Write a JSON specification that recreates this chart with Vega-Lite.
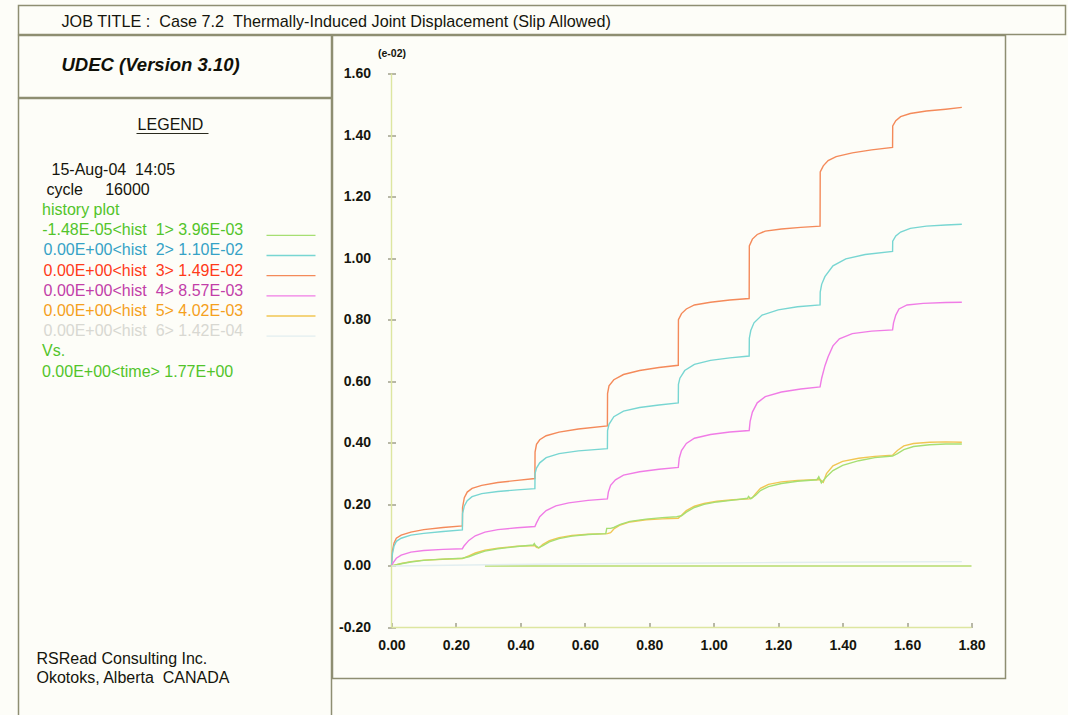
{
  "$schema": "https://vega.github.io/schema/vega-lite/v6.json",
  "background": "#fdfdf8",
  "padding": {"left": 17.5, "top": 4.5, "right": 0, "bottom": 0},
  "spacing": -3,
  "config": {
    "font": "Liberation Sans",
    "view": {"stroke": "#8e8e72", "strokeWidth": 1.5},
    "concat": {"spacing": -3}
  },
  "resolve": {"scale": {"color": "independent", "stroke": "independent"}},
  "datasets": {
    "curves": [
      {"series": "hist 3", "time": 0, "disp": 0},
      {"series": "hist 3", "time": 0.003, "disp": 0.05},
      {"series": "hist 3", "time": 0.008, "disp": 0.075},
      {"series": "hist 3", "time": 0.015, "disp": 0.09},
      {"series": "hist 3", "time": 0.03, "disp": 0.1},
      {"series": "hist 3", "time": 0.06, "disp": 0.11},
      {"series": "hist 3", "time": 0.1, "disp": 0.118},
      {"series": "hist 3", "time": 0.16, "disp": 0.125},
      {"series": "hist 3", "time": 0.22, "disp": 0.13},
      {"series": "hist 3", "time": 0.2205, "disp": 0.19},
      {"series": "hist 3", "time": 0.226, "disp": 0.222},
      {"series": "hist 3", "time": 0.235, "disp": 0.24},
      {"series": "hist 3", "time": 0.25, "disp": 0.252},
      {"series": "hist 3", "time": 0.28, "disp": 0.262},
      {"series": "hist 3", "time": 0.33, "disp": 0.271},
      {"series": "hist 3", "time": 0.39, "disp": 0.278},
      {"series": "hist 3", "time": 0.445, "disp": 0.284},
      {"series": "hist 3", "time": 0.4455, "disp": 0.37},
      {"series": "hist 3", "time": 0.45, "disp": 0.395},
      {"series": "hist 3", "time": 0.46, "disp": 0.41},
      {"series": "hist 3", "time": 0.48, "disp": 0.423},
      {"series": "hist 3", "time": 0.52, "disp": 0.435},
      {"series": "hist 3", "time": 0.58, "disp": 0.445},
      {"series": "hist 3", "time": 0.67, "disp": 0.455},
      {"series": "hist 3", "time": 0.6705, "disp": 0.56},
      {"series": "hist 3", "time": 0.675, "disp": 0.585},
      {"series": "hist 3", "time": 0.69, "disp": 0.605},
      {"series": "hist 3", "time": 0.72, "disp": 0.622},
      {"series": "hist 3", "time": 0.77, "disp": 0.635},
      {"series": "hist 3", "time": 0.83, "disp": 0.645},
      {"series": "hist 3", "time": 0.89, "disp": 0.652},
      {"series": "hist 3", "time": 0.8905, "disp": 0.8},
      {"series": "hist 3", "time": 0.9, "disp": 0.82},
      {"series": "hist 3", "time": 0.915, "disp": 0.835},
      {"series": "hist 3", "time": 0.94, "disp": 0.848},
      {"series": "hist 3", "time": 0.99, "disp": 0.857},
      {"series": "hist 3", "time": 1.05, "disp": 0.864},
      {"series": "hist 3", "time": 1.11, "disp": 0.869},
      {"series": "hist 3", "time": 1.1105, "disp": 1.04},
      {"series": "hist 3", "time": 1.12, "disp": 1.062},
      {"series": "hist 3", "time": 1.135, "disp": 1.077},
      {"series": "hist 3", "time": 1.16, "disp": 1.088},
      {"series": "hist 3", "time": 1.21, "disp": 1.095},
      {"series": "hist 3", "time": 1.27, "disp": 1.1},
      {"series": "hist 3", "time": 1.33, "disp": 1.104},
      {"series": "hist 3", "time": 1.3305, "disp": 1.28},
      {"series": "hist 3", "time": 1.34, "disp": 1.3},
      {"series": "hist 3", "time": 1.355, "disp": 1.317},
      {"series": "hist 3", "time": 1.38, "disp": 1.33},
      {"series": "hist 3", "time": 1.43, "disp": 1.342},
      {"series": "hist 3", "time": 1.49, "disp": 1.352},
      {"series": "hist 3", "time": 1.555, "disp": 1.36},
      {"series": "hist 3", "time": 1.5555, "disp": 1.43},
      {"series": "hist 3", "time": 1.565, "disp": 1.447},
      {"series": "hist 3", "time": 1.58, "disp": 1.46},
      {"series": "hist 3", "time": 1.61, "disp": 1.47},
      {"series": "hist 3", "time": 1.66, "disp": 1.478},
      {"series": "hist 3", "time": 1.72, "disp": 1.484},
      {"series": "hist 3", "time": 1.77, "disp": 1.49},

      {"series": "hist 2", "time": 0, "disp": 0},
      {"series": "hist 2", "time": 0.003, "disp": 0.04},
      {"series": "hist 2", "time": 0.008, "disp": 0.065},
      {"series": "hist 2", "time": 0.015, "disp": 0.08},
      {"series": "hist 2", "time": 0.03, "disp": 0.09},
      {"series": "hist 2", "time": 0.06, "disp": 0.1},
      {"series": "hist 2", "time": 0.1, "disp": 0.106},
      {"series": "hist 2", "time": 0.16, "disp": 0.112},
      {"series": "hist 2", "time": 0.22, "disp": 0.117},
      {"series": "hist 2", "time": 0.2205, "disp": 0.17},
      {"series": "hist 2", "time": 0.226, "disp": 0.195},
      {"series": "hist 2", "time": 0.235, "disp": 0.212},
      {"series": "hist 2", "time": 0.25, "disp": 0.225},
      {"series": "hist 2", "time": 0.28, "disp": 0.235},
      {"series": "hist 2", "time": 0.33, "disp": 0.242},
      {"series": "hist 2", "time": 0.39, "disp": 0.247},
      {"series": "hist 2", "time": 0.445, "disp": 0.251},
      {"series": "hist 2", "time": 0.4455, "disp": 0.3},
      {"series": "hist 2", "time": 0.45, "disp": 0.318},
      {"series": "hist 2", "time": 0.46, "disp": 0.335},
      {"series": "hist 2", "time": 0.48, "disp": 0.352},
      {"series": "hist 2", "time": 0.52, "disp": 0.365},
      {"series": "hist 2", "time": 0.58, "disp": 0.374},
      {"series": "hist 2", "time": 0.67, "disp": 0.381},
      {"series": "hist 2", "time": 0.6705, "disp": 0.44},
      {"series": "hist 2", "time": 0.675, "disp": 0.46},
      {"series": "hist 2", "time": 0.69, "disp": 0.485},
      {"series": "hist 2", "time": 0.72, "disp": 0.503},
      {"series": "hist 2", "time": 0.77, "disp": 0.515},
      {"series": "hist 2", "time": 0.83, "disp": 0.523},
      {"series": "hist 2", "time": 0.89, "disp": 0.53},
      {"series": "hist 2", "time": 0.8905, "disp": 0.59},
      {"series": "hist 2", "time": 0.895, "disp": 0.61},
      {"series": "hist 2", "time": 0.91, "disp": 0.635},
      {"series": "hist 2", "time": 0.94, "disp": 0.655},
      {"series": "hist 2", "time": 0.99, "disp": 0.668},
      {"series": "hist 2", "time": 1.05, "disp": 0.676},
      {"series": "hist 2", "time": 1.11, "disp": 0.682},
      {"series": "hist 2", "time": 1.1105, "disp": 0.74},
      {"series": "hist 2", "time": 1.115, "disp": 0.765},
      {"series": "hist 2", "time": 1.125, "disp": 0.79},
      {"series": "hist 2", "time": 1.15, "disp": 0.815},
      {"series": "hist 2", "time": 1.2, "disp": 0.832},
      {"series": "hist 2", "time": 1.26, "disp": 0.842},
      {"series": "hist 2", "time": 1.33, "disp": 0.848},
      {"series": "hist 2", "time": 1.3305, "disp": 0.89},
      {"series": "hist 2", "time": 1.335, "disp": 0.915},
      {"series": "hist 2", "time": 1.345, "disp": 0.94},
      {"series": "hist 2", "time": 1.37, "disp": 0.975},
      {"series": "hist 2", "time": 1.41, "disp": 0.998},
      {"series": "hist 2", "time": 1.47, "disp": 1.012},
      {"series": "hist 2", "time": 1.555, "disp": 1.022},
      {"series": "hist 2", "time": 1.5555, "disp": 1.055},
      {"series": "hist 2", "time": 1.565, "disp": 1.072},
      {"series": "hist 2", "time": 1.58, "disp": 1.085},
      {"series": "hist 2", "time": 1.61, "disp": 1.097},
      {"series": "hist 2", "time": 1.66, "disp": 1.104},
      {"series": "hist 2", "time": 1.72, "disp": 1.108},
      {"series": "hist 2", "time": 1.77, "disp": 1.11},

      {"series": "hist 4", "time": 0, "disp": 0},
      {"series": "hist 4", "time": 0.005, "disp": 0.01},
      {"series": "hist 4", "time": 0.015, "disp": 0.025},
      {"series": "hist 4", "time": 0.03, "disp": 0.035},
      {"series": "hist 4", "time": 0.06, "disp": 0.045},
      {"series": "hist 4", "time": 0.1, "disp": 0.05},
      {"series": "hist 4", "time": 0.16, "disp": 0.054},
      {"series": "hist 4", "time": 0.22, "disp": 0.056},
      {"series": "hist 4", "time": 0.225, "disp": 0.065},
      {"series": "hist 4", "time": 0.24, "disp": 0.083},
      {"series": "hist 4", "time": 0.26, "disp": 0.098},
      {"series": "hist 4", "time": 0.29, "disp": 0.11},
      {"series": "hist 4", "time": 0.33, "disp": 0.118},
      {"series": "hist 4", "time": 0.39, "disp": 0.124},
      {"series": "hist 4", "time": 0.445, "disp": 0.128},
      {"series": "hist 4", "time": 0.45, "disp": 0.14},
      {"series": "hist 4", "time": 0.46, "disp": 0.16},
      {"series": "hist 4", "time": 0.48, "disp": 0.18},
      {"series": "hist 4", "time": 0.51, "disp": 0.195},
      {"series": "hist 4", "time": 0.55, "disp": 0.205},
      {"series": "hist 4", "time": 0.61, "disp": 0.213},
      {"series": "hist 4", "time": 0.67, "disp": 0.218},
      {"series": "hist 4", "time": 0.673, "disp": 0.24},
      {"series": "hist 4", "time": 0.68, "disp": 0.262},
      {"series": "hist 4", "time": 0.695, "disp": 0.28},
      {"series": "hist 4", "time": 0.72, "disp": 0.295},
      {"series": "hist 4", "time": 0.77, "disp": 0.306},
      {"series": "hist 4", "time": 0.83, "disp": 0.314},
      {"series": "hist 4", "time": 0.89, "disp": 0.32},
      {"series": "hist 4", "time": 0.893, "disp": 0.35},
      {"series": "hist 4", "time": 0.9, "disp": 0.375},
      {"series": "hist 4", "time": 0.915, "disp": 0.398},
      {"series": "hist 4", "time": 0.94, "disp": 0.415},
      {"series": "hist 4", "time": 0.99, "disp": 0.427},
      {"series": "hist 4", "time": 1.05, "disp": 0.435},
      {"series": "hist 4", "time": 1.11, "disp": 0.44},
      {"series": "hist 4", "time": 1.113, "disp": 0.47},
      {"series": "hist 4", "time": 1.12, "disp": 0.5},
      {"series": "hist 4", "time": 1.135, "disp": 0.53},
      {"series": "hist 4", "time": 1.16, "disp": 0.55},
      {"series": "hist 4", "time": 1.21, "disp": 0.565},
      {"series": "hist 4", "time": 1.27, "disp": 0.575},
      {"series": "hist 4", "time": 1.33, "disp": 0.582},
      {"series": "hist 4", "time": 1.335, "disp": 0.61},
      {"series": "hist 4", "time": 1.345, "disp": 0.65},
      {"series": "hist 4", "time": 1.355, "disp": 0.68},
      {"series": "hist 4", "time": 1.37, "disp": 0.715},
      {"series": "hist 4", "time": 1.39, "disp": 0.738},
      {"series": "hist 4", "time": 1.43, "disp": 0.755},
      {"series": "hist 4", "time": 1.49, "disp": 0.763},
      {"series": "hist 4", "time": 1.555, "disp": 0.767},
      {"series": "hist 4", "time": 1.558, "disp": 0.79},
      {"series": "hist 4", "time": 1.565, "disp": 0.815},
      {"series": "hist 4", "time": 1.575, "disp": 0.835},
      {"series": "hist 4", "time": 1.6, "disp": 0.848},
      {"series": "hist 4", "time": 1.65, "disp": 0.853},
      {"series": "hist 4", "time": 1.72, "disp": 0.856},
      {"series": "hist 4", "time": 1.77, "disp": 0.857},

      {"series": "hist 5", "time": 0, "disp": 0},
      {"series": "hist 5", "time": 0.03, "disp": 0.008},
      {"series": "hist 5", "time": 0.06, "disp": 0.014},
      {"series": "hist 5", "time": 0.1, "disp": 0.019},
      {"series": "hist 5", "time": 0.16, "disp": 0.022},
      {"series": "hist 5", "time": 0.22, "disp": 0.024},
      {"series": "hist 5", "time": 0.24, "disp": 0.033},
      {"series": "hist 5", "time": 0.26, "disp": 0.042},
      {"series": "hist 5", "time": 0.29, "disp": 0.051},
      {"series": "hist 5", "time": 0.33, "disp": 0.058},
      {"series": "hist 5", "time": 0.39, "disp": 0.064},
      {"series": "hist 5", "time": 0.445, "disp": 0.066},
      {"series": "hist 5", "time": 0.45, "disp": 0.06},
      {"series": "hist 5", "time": 0.457, "disp": 0.058},
      {"series": "hist 5", "time": 0.47, "disp": 0.07},
      {"series": "hist 5", "time": 0.49, "disp": 0.082},
      {"series": "hist 5", "time": 0.52, "disp": 0.092},
      {"series": "hist 5", "time": 0.56, "disp": 0.099},
      {"series": "hist 5", "time": 0.61, "disp": 0.103},
      {"series": "hist 5", "time": 0.67, "disp": 0.105},
      {"series": "hist 5", "time": 0.68, "disp": 0.108},
      {"series": "hist 5", "time": 0.69, "disp": 0.12},
      {"series": "hist 5", "time": 0.71, "disp": 0.133},
      {"series": "hist 5", "time": 0.74, "disp": 0.143},
      {"series": "hist 5", "time": 0.79, "disp": 0.15},
      {"series": "hist 5", "time": 0.84, "disp": 0.153},
      {"series": "hist 5", "time": 0.89, "disp": 0.155},
      {"series": "hist 5", "time": 0.9, "disp": 0.165},
      {"series": "hist 5", "time": 0.915, "disp": 0.18},
      {"series": "hist 5", "time": 0.94, "disp": 0.194},
      {"series": "hist 5", "time": 0.97, "disp": 0.203},
      {"series": "hist 5", "time": 1.01, "disp": 0.21},
      {"series": "hist 5", "time": 1.06, "disp": 0.215},
      {"series": "hist 5", "time": 1.11, "disp": 0.218},
      {"series": "hist 5", "time": 1.12, "disp": 0.222},
      {"series": "hist 5", "time": 1.13, "disp": 0.235},
      {"series": "hist 5", "time": 1.145, "disp": 0.252},
      {"series": "hist 5", "time": 1.17, "disp": 0.265},
      {"series": "hist 5", "time": 1.21, "disp": 0.273},
      {"series": "hist 5", "time": 1.26, "disp": 0.278},
      {"series": "hist 5", "time": 1.33, "disp": 0.281},
      {"series": "hist 5", "time": 1.34, "disp": 0.272},
      {"series": "hist 5", "time": 1.35, "disp": 0.3},
      {"series": "hist 5", "time": 1.37, "disp": 0.325},
      {"series": "hist 5", "time": 1.4, "disp": 0.34},
      {"series": "hist 5", "time": 1.45, "disp": 0.35},
      {"series": "hist 5", "time": 1.5, "disp": 0.356},
      {"series": "hist 5", "time": 1.555, "disp": 0.36},
      {"series": "hist 5", "time": 1.57, "disp": 0.375},
      {"series": "hist 5", "time": 1.59, "disp": 0.39},
      {"series": "hist 5", "time": 1.62, "disp": 0.398},
      {"series": "hist 5", "time": 1.67, "disp": 0.402},
      {"series": "hist 5", "time": 1.72, "disp": 0.403},
      {"series": "hist 5", "time": 1.77, "disp": 0.402},

      {"series": "hist 1", "time": 0, "disp": 0},
      {"series": "hist 1", "time": 0.03, "disp": 0.007},
      {"series": "hist 1", "time": 0.06, "disp": 0.013},
      {"series": "hist 1", "time": 0.1, "disp": 0.018},
      {"series": "hist 1", "time": 0.16, "disp": 0.022},
      {"series": "hist 1", "time": 0.22, "disp": 0.025},
      {"series": "hist 1", "time": 0.24, "disp": 0.03},
      {"series": "hist 1", "time": 0.26, "disp": 0.038},
      {"series": "hist 1", "time": 0.29, "disp": 0.048},
      {"series": "hist 1", "time": 0.33, "disp": 0.056},
      {"series": "hist 1", "time": 0.39, "disp": 0.063},
      {"series": "hist 1", "time": 0.44, "disp": 0.068},
      {"series": "hist 1", "time": 0.443, "disp": 0.073},
      {"series": "hist 1", "time": 0.447, "disp": 0.066},
      {"series": "hist 1", "time": 0.457, "disp": 0.059},
      {"series": "hist 1", "time": 0.47, "disp": 0.066},
      {"series": "hist 1", "time": 0.49, "disp": 0.078},
      {"series": "hist 1", "time": 0.52, "disp": 0.089},
      {"series": "hist 1", "time": 0.56, "disp": 0.097},
      {"series": "hist 1", "time": 0.61, "disp": 0.102},
      {"series": "hist 1", "time": 0.665, "disp": 0.105},
      {"series": "hist 1", "time": 0.668, "disp": 0.122},
      {"series": "hist 1", "time": 0.68, "disp": 0.122},
      {"series": "hist 1", "time": 0.69, "disp": 0.125},
      {"series": "hist 1", "time": 0.71, "disp": 0.135},
      {"series": "hist 1", "time": 0.74, "disp": 0.145},
      {"series": "hist 1", "time": 0.79, "disp": 0.152},
      {"series": "hist 1", "time": 0.84, "disp": 0.157},
      {"series": "hist 1", "time": 0.885, "disp": 0.16},
      {"series": "hist 1", "time": 0.9, "disp": 0.163},
      {"series": "hist 1", "time": 0.915, "disp": 0.175},
      {"series": "hist 1", "time": 0.94, "disp": 0.19},
      {"series": "hist 1", "time": 0.97, "disp": 0.2},
      {"series": "hist 1", "time": 1.01, "disp": 0.208},
      {"series": "hist 1", "time": 1.06, "disp": 0.214},
      {"series": "hist 1", "time": 1.105, "disp": 0.22},
      {"series": "hist 1", "time": 1.108, "disp": 0.226},
      {"series": "hist 1", "time": 1.115, "disp": 0.218},
      {"series": "hist 1", "time": 1.13, "disp": 0.23},
      {"series": "hist 1", "time": 1.145, "disp": 0.245},
      {"series": "hist 1", "time": 1.17, "disp": 0.258},
      {"series": "hist 1", "time": 1.21, "disp": 0.268},
      {"series": "hist 1", "time": 1.26, "disp": 0.275},
      {"series": "hist 1", "time": 1.32, "disp": 0.28},
      {"series": "hist 1", "time": 1.326, "disp": 0.29},
      {"series": "hist 1", "time": 1.334, "disp": 0.27},
      {"series": "hist 1", "time": 1.35, "disp": 0.29},
      {"series": "hist 1", "time": 1.37, "disp": 0.31},
      {"series": "hist 1", "time": 1.4, "disp": 0.327},
      {"series": "hist 1", "time": 1.45, "disp": 0.342},
      {"series": "hist 1", "time": 1.5, "disp": 0.352},
      {"series": "hist 1", "time": 1.555, "disp": 0.357},
      {"series": "hist 1", "time": 1.57, "disp": 0.365},
      {"series": "hist 1", "time": 1.59, "disp": 0.378},
      {"series": "hist 1", "time": 1.62, "disp": 0.388},
      {"series": "hist 1", "time": 1.67, "disp": 0.394},
      {"series": "hist 1", "time": 1.72, "disp": 0.396},
      {"series": "hist 1", "time": 1.77, "disp": 0.396},

      {"series": "hist 6", "time": 0, "disp": 0},
      {"series": "hist 6", "time": 0.3, "disp": 0.004},
      {"series": "hist 6", "time": 0.6, "disp": 0.007},
      {"series": "hist 6", "time": 0.9, "disp": 0.009},
      {"series": "hist 6", "time": 1.2, "disp": 0.011},
      {"series": "hist 6", "time": 1.5, "disp": 0.013},
      {"series": "hist 6", "time": 1.77, "disp": 0.014}
    ],
    "legendRows": [
      {"line": 0, "series": "head", "label": "15-Aug-04\u00a0\u00a014:05"},
      {"line": 1, "series": "head", "label": "cycle\u00a0\u00a0\u00a0\u00a0\u00a016000"},
      {"line": 2, "series": "axis", "label": "history plot"},
      {"line": 3, "series": "hist 1", "lower": "-1.48E-05", "label": "<hist\u00a0\u00a01> 3.96E-03"},
      {"line": 4, "series": "hist 2", "lower": "0.00E+00", "label": "<hist\u00a0\u00a02> 1.10E-02"},
      {"line": 5, "series": "hist 3", "lower": "0.00E+00", "label": "<hist\u00a0\u00a03> 1.49E-02"},
      {"line": 6, "series": "hist 4", "lower": "0.00E+00", "label": "<hist\u00a0\u00a04> 8.57E-03"},
      {"line": 7, "series": "hist 5", "lower": "0.00E+00", "label": "<hist\u00a0\u00a05> 4.02E-03"},
      {"line": 8, "series": "hist 6", "lower": "0.00E+00", "label": "<hist\u00a0\u00a06> 1.42E-04"},
      {"line": 9, "series": "axis", "label": "Vs."},
      {"line": 10, "series": "axis", "label": "0.00E+00<time> 1.77E+00"}
    ],
    "frameLines": [
      {"part": "axis", "time": 0, "time2": 0, "disp": -0.2, "disp2": 1.6},
      {"part": "axis", "time": 0, "time2": 1.8, "disp": -0.2, "disp2": -0.2},
      {"part": "zero", "time": 0.29, "time2": 1.8, "disp": 0, "disp2": 0}
    ]
  },
  "vconcat": [
    {
      "width": 1047,
      "height": 29,
      "data": {"values": [{"label": "JOB TITLE :\u00a0\u00a0Case 7.2\u00a0\u00a0Thermally-Induced Joint Displacement (Slip Allowed)"}]},
      "mark": {"type": "text", "align": "left", "baseline": "middle", "fontSize": 16.2, "color": "#15150c"},
      "encoding": {
        "text": {"field": "label"},
        "x": {"value": 43},
        "y": {"value": 16}
      }
    },
    {
      "spacing": -3,
      "resolve": {"scale": {"color": "independent", "stroke": "independent"}},
      "hconcat": [
        {
          "spacing": -3,
          "resolve": {"scale": {"color": "independent", "stroke": "independent"}},
          "vconcat": [
            {
              "width": 313,
              "height": 62,
              "data": {"values": [{"label": "UDEC (Version 3.10)"}]},
              "mark": {"type": "text", "align": "left", "baseline": "middle", "fontSize": 18.5, "fontWeight": "bold", "fontStyle": "italic", "color": "#111108"},
              "encoding": {
                "text": {"field": "label"},
                "x": {"value": 43},
                "y": {"value": 29}
              }
            },
            {
              "width": 313,
              "height": 620,
              "encoding": {
                "y": {"field": "line", "type": "quantitative", "scale": {"domain": [0, 10], "range": [76.3, 278]}, "axis": null},
                "color": {
                  "field": "series", "type": "nominal", "legend": null,
                  "scale": {
                    "domain": ["head", "axis", "hist 1", "hist 2", "hist 3", "hist 4", "hist 5", "hist 6"],
                    "range": ["#15150c", "#52c42a", "#52c42a", "#35a2c6", "#ff3a18", "#c23ea8", "#f5a01c", "#d8d8d2"]
                  }
                }
              },
              "layer": [
                {
                  "data": {"values": [{"label": "LEGEND"}]},
                  "mark": {"type": "text", "align": "center", "baseline": "middle", "fontSize": 16, "color": "#15150c"},
                  "encoding": {"text": {"field": "label"}, "x": {"value": 152}, "y": {"value": 26}, "color": null}
                },
                {
                  "data": {"values": [{"label": "LEGEND"}]},
                  "mark": {"type": "rule", "color": "#2a2a1e", "strokeWidth": 1},
                  "encoding": {"x": {"value": 118}, "x2": {"value": 190}, "y": {"value": 35}, "color": null}
                },
                {
                  "data": {"name": "legendRows"},
                  "transform": [{"filter": "datum.line === 0"}],
                  "mark": {"type": "text", "align": "left", "baseline": "middle", "fontSize": 16, "dy": -5},
                  "encoding": {"text": {"field": "label"}, "x": {"value": 33}}
                },
                {
                  "data": {"name": "legendRows"},
                  "transform": [{"filter": "datum.line === 1"}],
                  "mark": {"type": "text", "align": "left", "baseline": "middle", "fontSize": 16, "dy": -5},
                  "encoding": {"text": {"field": "label"}, "x": {"value": 28}}
                },
                {
                  "data": {"name": "legendRows"},
                  "transform": [{"filter": "datum.series === 'axis'"}],
                  "mark": {"type": "text", "align": "left", "baseline": "middle", "fontSize": 16, "dy": -5},
                  "encoding": {"text": {"field": "label"}, "x": {"value": 23.5}}
                },
                {
                  "data": {"name": "legendRows"},
                  "transform": [{"filter": "isValid(datum.lower)"}],
                  "mark": {"type": "text", "align": "right", "baseline": "middle", "fontSize": 16, "dy": -5},
                  "encoding": {"text": {"field": "lower"}, "x": {"value": 94}}
                },
                {
                  "data": {"name": "legendRows"},
                  "transform": [{"filter": "isValid(datum.lower)"}],
                  "mark": {"type": "text", "align": "left", "baseline": "middle", "fontSize": 16, "dy": -5},
                  "encoding": {"text": {"field": "label"}, "x": {"value": 94}}
                },
                {
                  "data": {"name": "legendRows"},
                  "transform": [{"filter": "isValid(datum.lower)"}],
                  "mark": {"type": "rule", "strokeWidth": 1.3},
                  "encoding": {
                    "x": {"value": 248},
                    "x2": {"value": 297},
                    "color": null,
                    "stroke": {
                      "field": "series", "type": "nominal", "legend": null,
                      "scale": {
                        "domain": ["hist 1", "hist 2", "hist 3", "hist 4", "hist 5", "hist 6"],
                        "range": ["#a6df72", "#78d6d2", "#f48a5a", "#f07ce6", "#f1c653", "#e2eef0"]
                      }
                    }
                  }
                },
                {
                  "data": {"values": [{"label": "RSRead Consulting Inc.\nOkotoks, Alberta\u00a0\u00a0CANADA"}]},
                  "mark": {"type": "text", "align": "left", "baseline": "alphabetic", "fontSize": 16, "lineBreak": "\n", "lineHeight": 19, "color": "#15150c"},
                  "encoding": {"text": {"field": "label"}, "x": {"value": 18}, "y": {"value": 565}, "color": null}
                }
              ]
            }
          ]
        },
        {
          "spacing": -3,
          "vconcat": [
            {
              "width": 673,
              "height": 643,
              "encoding": {
                "x": {
                  "field": "time", "type": "quantitative",
                  "scale": {"domain": [-0.1831, 1.9055], "nice": false, "zero": false},
                  "axis": {
                    "values": [0, 0.2, 0.4, 0.6, 0.8, 1.0, 1.2, 1.4, 1.6, 1.8],
                    "format": ".2f", "title": null, "domain": false, "grid": false,
                    "offset": -56, "tickSize": 5, "tickColor": "#727256", "tickWidth": 1,
                    "labelPadding": 11, "labelFont": "Liberation Sans", "labelFontSize": 14, "labelFontWeight": "bold",
                    "labelColor": "#16160e", "labelFlush": false
                  }
                },
                "y": {
                  "field": "disp", "type": "quantitative",
                  "scale": {"domain": [-0.3657, 1.7235], "nice": false, "zero": false},
                  "axis": {
                    "values": [-0.2, 0, 0.2, 0.4, 0.6, 0.8, 1.0, 1.2, 1.4, 1.6],
                    "format": ".2f", "labelExpr": "replace(datum.label, '\u2212', '-')",
                    "domain": false, "grid": false,
                    "offset": -63, "tickSize": 8, "tickColor": "#727256", "tickWidth": 1,
                    "labelPadding": 17, "labelFont": "Liberation Sans", "labelFontSize": 14, "labelFontWeight": "bold",
                    "labelColor": "#16160e",
                    "title": "(e-02)", "titleAngle": 0, "titleX": -4, "titleY": 18, "titleAlign": "center", "titleBaseline": "middle",
                    "titleFont": "Liberation Sans", "titleFontSize": 10.5, "titleFontWeight": "bold", "titleColor": "#16160e"
                  }
                }
              },
              "layer": [
                {
                  "data": {"name": "frameLines"},
                  "mark": {"type": "rule", "strokeWidth": 1.4},
                  "encoding": {
                    "x2": {"field": "time2"},
                    "y2": {"field": "disp2"},
                    "color": {
                      "field": "part", "type": "nominal", "legend": null,
                      "scale": {"domain": ["axis", "zero"], "range": ["#dde6a0", "#b6db6e"]}
                    }
                  }
                },
                {
                  "data": {"name": "curves"},
                  "mark": {"type": "line", "strokeWidth": 1.4},
                  "encoding": {
                    "stroke": {
                      "field": "series", "type": "nominal", "legend": null,
                      "scale": {
                        "domain": ["hist 1", "hist 2", "hist 3", "hist 4", "hist 5", "hist 6"],
                        "range": ["#a6df72", "#78d6d2", "#f48a5a", "#f07ce6", "#f1c653", "#e2eef0"]
                      }
                    }
                  }
                }
              ]
            },
            {
              "width": 673,
              "height": 40,
              "data": {"values": []},
              "mark": "rule",
              "encoding": {}
            }
          ]
        },
        {
          "width": 61,
          "height": 683,
          "data": {"values": []},
          "mark": "rule",
          "encoding": {}
        }
      ]
    }
  ]
}
